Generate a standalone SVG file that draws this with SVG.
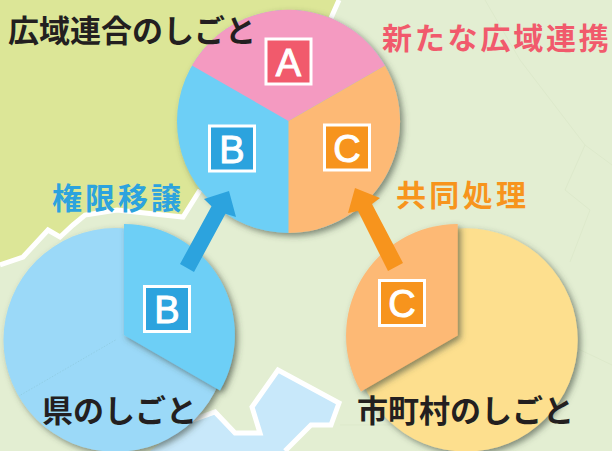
<svg xmlns="http://www.w3.org/2000/svg" width="612" height="451" viewBox="0 0 612 451">
<style>
.t{font-family:"Noto Sans CJK JP","Noto Sans",sans-serif;font-weight:700;font-size:30px}
.k{fill:#231f20;font-size:31px}
.l{font-family:"Liberation Sans",Arial,sans-serif;font-size:38px;fill:#fff;stroke:#fff;stroke-width:1px;text-anchor:middle}
.s{stroke:#fff;stroke-width:3}
.bound{fill:none;stroke:#fff;stroke-width:5;stroke-linejoin:miter}
.faint{fill:none;stroke:#dde9cb;stroke-width:1}
</style>
<defs>
<filter id="sh" x="-15%" y="-15%" width="135%" height="135%">
<feDropShadow dx="3" dy="3" stdDeviation="3" flood-color="#3c4a3c" flood-opacity="0.6"/>
</filter>
</defs>
<g id="background">
<rect width="612" height="451" fill="#e3eed2"/>
<path d="M0 0H339L331 18L300 110L200 190L183 217L117 210L85 215L73 225L60 237L48 230L23 257L0 265Z" fill="#dce697"/>
<path class="bound" d="M339 0L331 18M200 190L183 217L117 210L85 215L73 225L60 237L48 230L23 257L0 265"/>
<path d="M150 451L190 421L215 412L235 433L260 433L252 407L278 370L339 403L331 425L311 425L285 451Z" fill="#c8e8fa"/>
<path class="bound" d="M190 421L215 412L235 433L260 433L252 407L278 370L339 403L331 425L311 425L285 451"/>
<path class="faint" d="M485 0L520 60L585 145L612 165M585 145L565 190L590 210L570 262M570 345L612 365M340 425H420"/>
</g>
<g id="pie-left">
<circle cx="115.500" cy="340" r="112" fill="#9bd9f8" filter="url(#sh)"/>
<path d="M115.500 340L19 396" fill="none" stroke="#8cc8dc" stroke-width="0.700" stroke-dasharray="1.500 1.500"/>
<g filter="url(#sh)"><path d="M124 335V224A111 111 0 0 1 220 390.500Z" fill="#6dcff6"/></g>
<rect class="s" x="144.500" y="286.500" width="45" height="45" fill="#2ca3de"/>
<text class="l" x="167" y="323">B</text>
<text class="t k" x="42" y="421.500">県のしごと</text>
</g>
<g id="pie-right">
<circle cx="466" cy="340" r="111.700" fill="#fddf8e" filter="url(#sh)"/>
<g filter="url(#sh)"><path d="M457.700 335.500V224A111.700 111.700 0 0 0 361 391.500Z" fill="#fdb974"/></g>
<rect class="s" x="379.500" y="280.500" width="45" height="45" fill="#f7941d"/>
<text class="l" x="402" y="317">C</text>
<text class="t k" x="357" y="421.500">市町村のしごと</text>
</g>
<g id="pie-top">
<g filter="url(#sh)">
<circle cx="288.500" cy="121.500" r="111.500" fill="#6dcff6"/>
<path d="M288.500 121L192 65.500A111.500 111.500 0 0 1 385 65.500Z" fill="#f49ac1"/>
<path d="M288.500 121L385 65.500A111.500 111.500 0 0 1 288.500 233Z" fill="#fdb974"/>
</g>
<rect class="s" x="266" y="39" width="45" height="45" fill="#f15a6c"/>
<text class="l" x="288.500" y="75.500">A</text>
<rect class="s" x="209.500" y="126" width="45" height="45" fill="#2ca3de"/>
<text class="l" x="232" y="162.500">B</text>
<rect class="s" x="324.500" y="125" width="45" height="45" fill="#f7941d"/>
<text class="l" x="347" y="161.500">C</text>
</g>
<g id="connectors">
<path d="M180 264L194 272L225.500 213.800L236 217L229 191L204 199L211.500 206.200Z" fill="#2ca3de"/>
<path d="M388 271L403 263L372 204L380 198L355 188L348 213L358 211Z" fill="#f7941d"/>
</g>
<g id="labels">
<text class="t k" x="8" y="42">広域連合のしごと</text>
<text class="t" x="382" y="49" fill="#f15a6c" style="letter-spacing:2.800px">新たな広域連携</text>
<text class="t" x="52" y="209" fill="#2ca3de" style="letter-spacing:3px">権限移譲</text>
<text class="t" x="396" y="206" fill="#f7941d" style="letter-spacing:3.300px">共同処理</text>
</g>
</svg>
